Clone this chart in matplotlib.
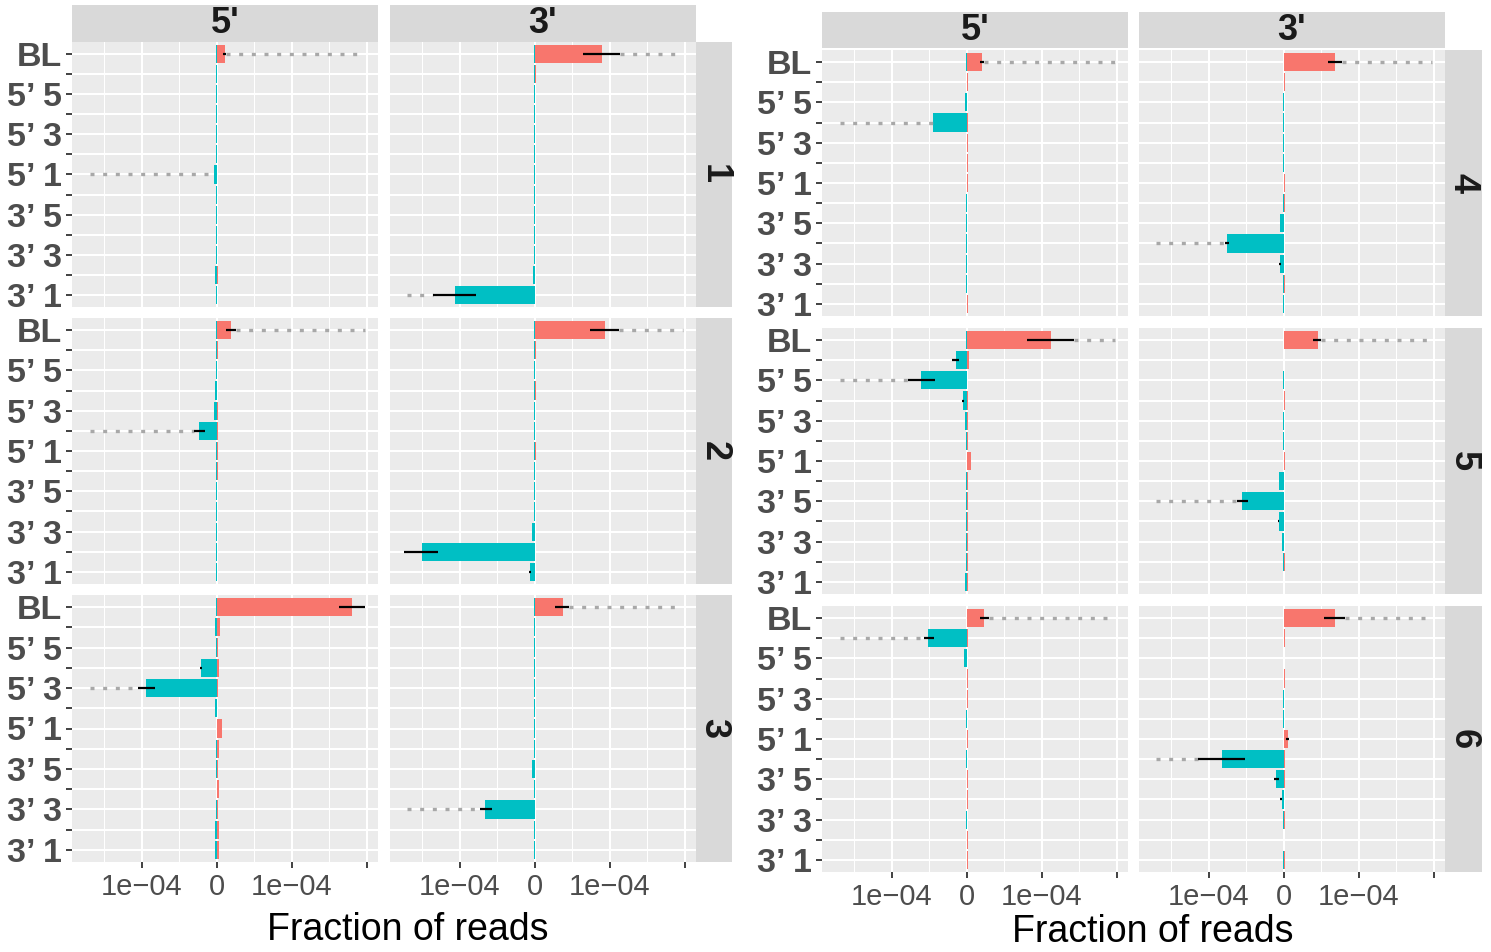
import numpy as np
import matplotlib
matplotlib.use("Agg")
import matplotlib.pyplot as plt
from matplotlib.ticker import FixedLocator

plt.rcParams['font.family'] = ['Liberation Sans', 'DejaVu Sans']

# categories, top to bottom (every other one is left unlabelled on the axis)
cat_labels = ["BL", "", "5\u2019 5", "", "5\u2019 3", "", "5\u2019 1", "",
              "3\u2019 5", "", "3\u2019 3", "", "3\u2019 1"]
col_names = ["5'", "3'"]
row_names = ["1", "2", "3", "4", "5", "6"]
SCALE = 1e-4  # values below are in units of 1e-04

# positive (red) and negative (cyan) fractions per panel: row, column
pos1_5 = [0.11, 0, 0, 0, 0, 0, 0, 0, 0, 0, 0, 0.01, 0]
neg1_5 = [-0.015, -0.008, -0.008, -0.008, -0.008, -0.008, -0.04, -0.008, -0.008, -0.008, -0.008, -0.03, -0.008]
pos1_3 = [0.90, 0.02, 0, 0, 0, 0, 0, 0, 0, 0, 0, 0, 0]
neg1_3 = [-0.01, -0.008, -0.008, -0.008, -0.008, -0.008, -0.008, -0.008, -0.008, -0.008, -0.008, -0.025, -1.07]

pos2_5 = [0.19, 0.015, 0, 0.005, 0.01, 0.01, 0.015, 0.015, 0, 0, 0, 0, 0]
neg2_5 = [-0.01, -0.01, -0.008, -0.02, -0.045, -0.24, -0.01, -0.01, -0.008, -0.008, -0.008, -0.008, -0.008]
pos2_3 = [0.93, 0.02, 0, 0.02, 0, 0, 0.02, 0, 0, 0, 0, 0, 0]
neg2_3 = [-0.01, -0.008, -0.008, -0.008, -0.008, -0.008, -0.008, -0.008, -0.008, -0.015, -0.035, -1.51, -0.065]

pos3_5 = [1.80, 0.04, 0.015, 0.03, 0.01, 0, 0.07, 0.03, 0.01, 0.03, 0.01, 0.03, 0.03]
neg3_5 = [-0.015, -0.02, -0.01, -0.21, -0.94, -0.025, -0.005, -0.015, -0.01, -0.005, -0.01, -0.02, -0.02]
pos3_3 = [0.37, 0, 0, 0, 0, 0, 0, 0, 0, 0, 0, 0, 0]
neg3_3 = [-0.01, -0.008, -0.008, -0.008, -0.008, -0.008, -0.008, -0.008, -0.04, -0.015, -0.66, -0.015, -0.015]

pos4_5 = [0.20, 0.02, 0, 0.02, 0.02, 0.02, 0.02, 0, 0, 0, 0, 0, 0.02]
neg4_5 = [-0.01, -0.005, -0.02, -0.45, -0.005, -0.005, -0.005, -0.008, -0.008, -0.008, -0.008, -0.008, -0.005]
pos4_3 = [0.68, 0.02, 0, 0, 0, 0, 0.02, 0.01, 0.005, 0, 0.005, 0.02, 0]
neg4_3 = [-0.005, -0.005, -0.008, -0.008, -0.008, -0.008, -0.005, -0.015, -0.05, -0.76, -0.05, -0.015, -0.015]

pos5_5 = [1.12, 0.03, 0, 0.02, 0.01, 0.01, 0.05, 0.02, 0.02, 0.02, 0.02, 0.02, 0.02]
neg5_5 = [-0.01, -0.15, -0.61, -0.05, -0.02, -0.01, -0.005, -0.01, -0.01, -0.01, -0.01, -0.01, -0.025]
pos5_3 = [0.45, 0, 0, 0.02, 0, 0, 0.02, 0.005, 0.005, 0.005, 0.005, 0.01, 0]
neg5_3 = [-0.005, -0.005, -0.008, -0.005, -0.008, -0.008, -0.005, -0.07, -0.56, -0.07, -0.02, -0.015, -0.005]

pos6_5 = [0.23, 0.02, 0, 0.02, 0.02, 0, 0.02, 0, 0.02, 0.02, 0, 0.02, 0.02]
neg6_5 = [-0.005, -0.52, -0.035, -0.005, -0.005, -0.008, -0.005, -0.008, -0.005, -0.005, -0.008, -0.005, -0.005]
pos6_3 = [0.68, 0.02, 0, 0.02, 0, 0, 0.05, 0.01, 0.01, 0.005, 0.01, 0, 0.01]
neg6_3 = [-0.005, -0.003, -0.005, -0.005, -0.008, -0.008, -0.005, -0.83, -0.10, -0.03, -0.015, -0.005, -0.01]

# error bars (category index, low, high), solid black
err1_5 = [(0, 0.08, 0.12)]
err1_3 = [(0, 0.64, 1.14), (12, -1.36, -0.79)]
err2_5 = [(0, 0.12, 0.25), (5, -0.31, -0.16)]
err2_3 = [(0, 0.74, 1.12), (11, -1.74, -1.29), (12, -0.075, -0.05)]
err3_5 = [(0, 1.63, 1.98), (3, -0.23, -0.20), (4, -1.05, -0.83)]
err3_3 = [(0, 0.27, 0.46), (10, -0.73, -0.57)]
err4_5 = [(0, 0.17, 0.23)]
err4_3 = [(0, 0.59, 0.77), (9, -0.78, -0.73), (10, -0.06, -0.04)]
err5_5 = [(0, 0.80, 1.43), (1, -0.20, -0.10), (2, -0.78, -0.43), (3, -0.06, -0.04)]
err5_3 = [(0, 0.39, 0.50), (8, -0.62, -0.48), (9, -0.08, -0.06)]
err6_5 = [(0, 0.18, 0.29), (1, -0.57, -0.44)]
err6_3 = [(0, 0.53, 0.82), (6, 0.03, 0.07), (7, -1.15, -0.52), (8, -0.13, -0.07), (9, -0.05, -0.03)]

# dotted grey extensions (category index, low, high)
dot1_5 = [(0, 0.12, 1.975), (6, -1.69, -0.05)]
dot1_3 = [(0, 1.14, 1.975), (12, -1.70, -1.36)]
dot2_5 = [(0, 0.25, 1.975), (5, -1.69, -0.31)]
dot2_3 = [(0, 1.12, 1.975)]
dot3_5 = [(4, -1.69, -1.05)]
dot3_3 = [(0, 0.46, 1.975), (10, -1.70, -0.73)]
dot4_5 = [(0, 0.23, 1.975), (3, -1.69, -0.45)]
dot4_3 = [(0, 0.77, 1.975), (9, -1.71, -0.78)]
dot5_5 = [(0, 1.43, 1.975), (2, -1.69, -0.78)]
dot5_3 = [(0, 0.50, 1.975), (8, -1.71, -0.62)]
dot6_5 = [(0, 0.29, 1.975), (1, -1.69, -0.57)]
dot6_3 = [(0, 0.82, 1.975), (7, -1.71, -1.15)]

panels = {
    (0, 0): (pos1_5, neg1_5, err1_5, dot1_5), (0, 1): (pos1_3, neg1_3, err1_3, dot1_3),
    (1, 0): (pos2_5, neg2_5, err2_5, dot2_5), (1, 1): (pos2_3, neg2_3, err2_3, dot2_3),
    (2, 0): (pos3_5, neg3_5, err3_5, dot3_5), (2, 1): (pos3_3, neg3_3, err3_3, dot3_3),
    (3, 0): (pos4_5, neg4_5, err4_5, dot4_5), (3, 1): (pos4_3, neg4_3, err4_3, dot4_3),
    (4, 0): (pos5_5, neg5_5, err5_5, dot5_5), (4, 1): (pos5_3, neg5_3, err5_3, dot5_3),
    (5, 0): (pos6_5, neg6_5, err6_5, dot6_5), (5, 1): (pos6_3, neg6_3, err6_3, dot6_3),
}

RED = "#F8766D"
CYAN = "#00BFC4"
W, H = 1491, 952

fig = plt.figure(figsize=(W / 100, H / 100), dpi=100)


def px_axes(x0, y0, x1, y1):
    return fig.add_axes([x0 / W, 1 - y1 / H, (x1 - x0) / W, (y1 - y0) / H])


def strip(ax, text, rot=0):
    ax.set_facecolor("#D9D9D9")
    ax.set_xticks([])
    ax.set_yticks([])
    for s in ax.spines.values():
        s.set_visible(False)
    ax.text(0.5, 0.5, text, transform=ax.transAxes, ha="center", va="center",
            fontsize=26, fontweight="bold", color="#1A1A1A", rotation=rot)


ycat = np.arange(len(cat_labels))

# two blocks: left (rows 1-3), right (rows 4-6)
blocks = [
    dict(rows=[0, 1, 2], cols=[(72, 378), (390, 696)], strip_x=(696, 732),
         top=(5, 42), ys=[(42, 307), (318, 584), (595, 862)], xlab_y=930, xlab_x=408),
    dict(rows=[3, 4, 5], cols=[(822, 1128), (1139, 1445)], strip_x=(1445, 1482),
         top=(12, 48), ys=[(50, 316), (328, 594), (606, 872)], xlab_y=932, xlab_x=1153),
]

for b in blocks:
    for c, (x0, x1) in enumerate(b["cols"]):
        strip(px_axes(x0, b["top"][0], x1, b["top"][1]), col_names[c])
    for r_i, r in enumerate(b["rows"]):
        y0, y1 = b["ys"][r_i]
        strip(px_axes(b["strip_x"][0], y0, b["strip_x"][1], y1), row_names[r], rot=-90)
        for c, (x0, x1) in enumerate(b["cols"]):
            ax = px_axes(x0, y0, x1, y1)
            pos, neg, err, dots = panels[(r, c)]
            ax.set_facecolor("#EBEBEB")
            ax.barh(ycat, np.array(pos) * SCALE, height=0.9, color=RED, zorder=2)
            ax.barh(ycat, np.array(neg) * SCALE, height=0.9, color=CYAN, zorder=2)
            for k, lo, hi in dots:
                ax.plot([lo * SCALE, hi * SCALE], [k, k], color="#A8A8A8", lw=2.4,
                        ls=(0, (1.2, 2.6)), solid_capstyle="butt", zorder=3)
            for k, lo, hi in err:
                ax.plot([lo * SCALE, hi * SCALE], [k, k], color="black", lw=1.6,
                        solid_capstyle="butt", zorder=4)
            ax.set_xlim(-1.933e-4, 2.147e-4)
            ax.set_ylim(len(cat_labels) - 0.4, -0.6)
            for s in ax.spines.values():
                s.set_visible(False)
            ax.set_axisbelow(True)
            ax.set_xticks([-1e-4, 0, 1e-4, 2e-4])
            ax.xaxis.set_minor_locator(FixedLocator([-1.5e-4, -0.5e-4, 0.5e-4, 1.5e-4]))
            ax.set_yticks(ycat)
            ax.grid(which="major", color="white", lw=1.5)
            ax.grid(which="minor", axis="x", color="white", lw=0.75)
            ax.tick_params(which="minor", length=0)
            ax.tick_params(which="major", length=4, width=1.3, color="#333333",
                           labelcolor="#4D4D4D", pad=3)
            if c == 0:
                ax.set_yticklabels(cat_labels, fontsize=24.5, fontweight="bold")
            else:
                ax.set_yticklabels([])
                ax.tick_params(axis="y", length=0)
            if r_i == 2:
                ax.set_xticklabels(["1e\u221204", "0", "1e\u221204", ""], fontsize=21)
                ax.tick_params(axis="x", pad=4)
            else:
                ax.set_xticklabels([])
                ax.tick_params(axis="x", length=0)
    fig.text(b["xlab_x"] / W, 1 - b["xlab_y"] / H, "Fraction of reads", ha="center",
             va="center", fontsize=27, color="black")

fig.savefig("out.png", dpi=100)
